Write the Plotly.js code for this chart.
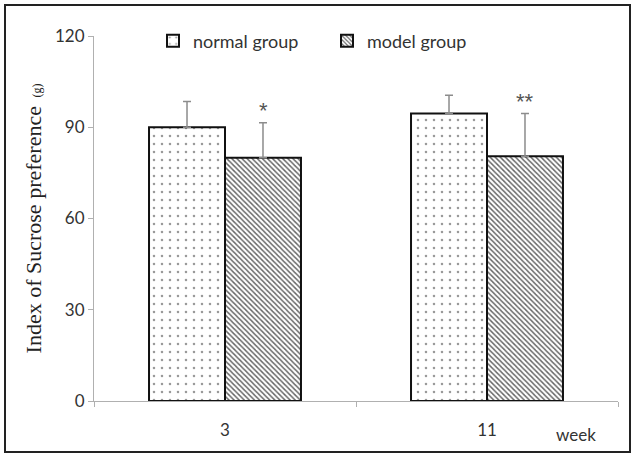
<!DOCTYPE html>
<html>
<head>
<meta charset="utf-8">
<script src="https://cdn.plot.ly/plotly-3.0.1.min.js"></script>
<style>
html,body{margin:0;padding:0;background:#fff;}
#chart{width:636px;height:458px;}
</style>
</head>
<body>
<div id="chart"></div>
<script>
var categories = ['3', '11'];
var normalValues = [90, 94.5];
var normalErrors = [8.5, 6];
var modelValues = [80, 80.5];
var modelErrors = [11.5, 14];
var significance = ['*', '**'];
var yTicks = [0, 30, 60, 90, 120];
var seriesNames = ['normal group', 'model group'];

var M = {l: 94, r: 18, t: 36, b: 57};
var W = 636, H = 458;
var pw = W - M.l - M.r, ph = H - M.t - M.b;
function px(x){ return (x - M.l) / pw; }
function py(y){ return (H - M.b - y) / ph; }

var traces = [
  {
    type: 'bar', name: seriesNames[0], x: categories, y: normalValues,
    marker: {color: '#ffffff', line: {color: '#111', width: 2},
      pattern: {shape: '.', fgcolor: '#9a9a9a', bgcolor: '#ffffff', size: 8, solidity: 0.08}},
    error_y: {type: 'data', array: normalErrors, symmetric: false, arrayminus: [0, 0],
      color: '#8c8c8c', thickness: 1.5, width: 4}
  },
  {
    type: 'bar', name: seriesNames[1], x: categories, y: modelValues,
    marker: {color: '#ffffff', line: {color: '#111', width: 2},
      pattern: {shape: '\\', fgcolor: '#666', bgcolor: '#ffffff', size: 3.6, solidity: 0.4}},
    error_y: {type: 'data', array: modelErrors, symmetric: false, arrayminus: [0, 0],
      color: '#8c8c8c', thickness: 1.5, width: 4}
  }
];

var annotations = categories.map(function(c, i){
  return {x: i, y: modelValues[i] + modelErrors[i], xref: 'x', yref: 'y',
    text: significance[i], showarrow: false, xshift: 38, yshift: 12,
    font: {family: 'Liberation Sans, Arial', size: 22, color: '#555'}};
});
annotations.push({x: px(576), y: py(432), xref: 'paper', yref: 'paper', text: 'week',
  xanchor: 'center', yanchor: 'middle',
  showarrow: false, yshift: -2, font: {family: 'Lato, sans-serif', size: 17, color: '#333'}});

var layout = {
  width: W, height: H,
  margin: M,
  paper_bgcolor: '#fff', plot_bgcolor: '#fff',
  bargap: 0.42, bargroupgap: 0, barmode: 'group',
  showlegend: true,
  legend: {orientation: 'h', x: px(153), y: py(41), xanchor: 'left', yanchor: 'middle',
    entrywidth: 129, entrywidthmode: 'pixels', itemwidth: 30,
    font: {family: 'Lato, sans-serif', size: 18, color: '#333'}, bgcolor: 'rgba(0,0,0,0)'},
  xaxis: {type: 'category', range: [-0.5, 1.5], showgrid: false, zeroline: false, showline: true, linecolor: '#b0b0b0',
    linewidth: 1, ticks: 'outside', tickson: 'boundaries', ticklen: 5, tickcolor: '#b0b0b0',
    ticklabelstandoff: 14,
    tickfont: {family: 'Lato, sans-serif', size: 17, color: '#333'}},
  yaxis: {range: [0, 120], tickvals: yTicks, showgrid: false, zeroline: false, showline: true,
    linecolor: '#b0b0b0', linewidth: 1, ticks: 'outside', ticklen: 5, tickcolor: '#b0b0b0',
    tickfont: {family: 'Lato, sans-serif', size: 17, color: '#333'},
    title: {text: 'Index of Sucrose preference <span style="font-size:12px"> (g)</span>',
      font: {family: 'Liberation Serif, Times New Roman, serif', size: 22, color: '#222'}, standoff: 7}},
  annotations: annotations,
  shapes: [{type: 'rect', xref: 'paper', yref: 'paper', x0: px(5), x1: px(630), y0: py(452), y1: py(5),
    line: {color: '#222', width: 2}, fillcolor: 'rgba(0,0,0,0)', layer: 'above'}]
};

Plotly.newPlot('chart', traces, layout, {displayModeBar: false, staticPlot: true});
</script>
</body>
</html>
